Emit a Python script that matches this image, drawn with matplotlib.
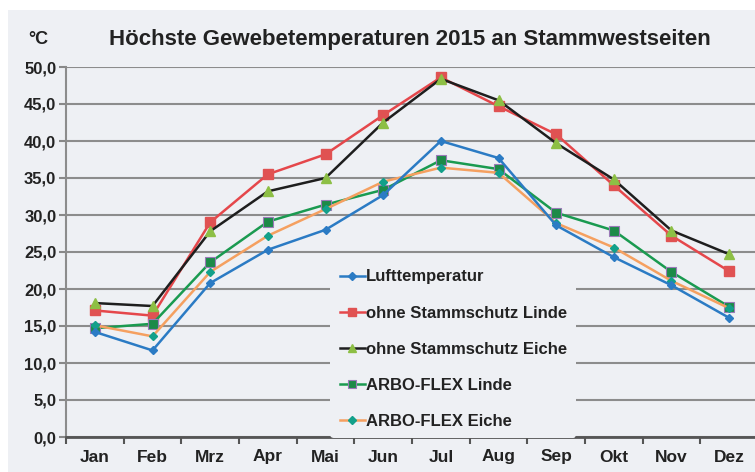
import matplotlib
matplotlib.use("Agg")

import matplotlib.pyplot as plt
from matplotlib.patches import Rectangle
from matplotlib.ticker import FixedLocator, FuncFormatter

months = ["Jan", "Feb", "Mrz", "Apr", "Mai", "Jun",
          "Jul", "Aug", "Sep", "Okt", "Nov", "Dez"]

luft = [14.2, 11.7, 20.8, 25.3, 28.0, 32.7, 40.0, 37.7, 28.6, 24.3, 20.5, 16.1]
ohne_linde = [17.1, 16.4, 29.0, 35.5, 38.2, 43.5, 48.6, 44.7, 40.9, 34.0, 27.2, 22.4]
ohne_eiche = [18.1, 17.7, 27.8, 33.2, 35.0, 42.5, 48.4, 45.5, 39.7, 34.8, 27.9, 24.7]
arbo_linde = [14.7, 15.3, 23.6, 29.1, 31.4, 33.4, 37.4, 36.2, 30.3, 27.9, 22.3, 17.6]
arbo_eiche = [15.1, 13.6, 22.3, 27.2, 30.8, 34.5, 36.4, 35.7, 28.9, 25.6, 21.1, 17.4]

BG = "#eef0f4"

plt.rcParams["font.family"] = ["Liberation Sans", "DejaVu Sans"]
plt.rcParams["font.weight"] = "bold"

fig = plt.figure(figsize=(7.55, 4.72), dpi=100, facecolor="white")
fig.patches.append(Rectangle((8 / 755, 0), 1, 462 / 472, transform=fig.transFigure,
                             facecolor=BG, edgecolor="none", zorder=-10))

ax = fig.add_axes([66 / 755, 35 / 472, 692 / 755, 370 / 472])
ax.set_facecolor(BG)

x = list(range(1, 13))
ax.plot(x, luft, color="#2b7bc4", lw=1.8, marker="D", ms=4.5,
        mfc="#2b7bc4", mec="#2b7bc4", label="Lufttemperatur", zorder=5)
ax.plot(x, ohne_linde, color="#e5474b", lw=1.8, marker="s", ms=6.5,
        mfc="#e05252", mec="#e05252", label="ohne Stammschutz Linde", zorder=4)
ax.plot(x, ohne_eiche, color="#1e1e1e", lw=1.8, marker="^", ms=7,
        mfc="#8dbf45", mec="#8dbf45", label="ohne Stammschutz Eiche", zorder=4)
ax.plot(x, arbo_linde, color="#1a9a50", lw=1.8, marker="s", ms=6.5,
        mfc="#1d8a48", mec="#9a7ab8", mew=0.8, label="ARBO-FLEX Linde", zorder=4)
ax.plot(x, arbo_eiche, color="#f5a060", lw=1.8, marker="D", ms=4.5,
        mfc="#12a08a", mec="#12a08a", label="ARBO-FLEX Eiche", zorder=4)

ax.set_xlim(0.5, 12.5)
ax.set_ylim(0, 50)
ax.yaxis.set_major_locator(FixedLocator([i * 5 for i in range(11)]))
ax.yaxis.set_major_formatter(FuncFormatter(lambda v, p: f"{v:.1f}".replace(".", ",")))
ax.set_xticks(x)
ax.set_xticklabels(months)
ax.xaxis.set_minor_locator(FixedLocator([i + 0.5 for i in range(13)]))
ax.tick_params(axis="x", which="major", length=0, pad=9, labelsize=12.5)
ax.tick_params(axis="x", which="minor", length=5, width=1.5, color="#555555")
ax.tick_params(axis="y", length=5, width=1.5, color="#888888", labelsize=12, pad=2)
for lab in ax.get_xticklabels() + ax.get_yticklabels():
    lab.set_fontweight("bold")
    lab.set_color("#222222")

ax.grid(axis="y", color="#8c8c8c", lw=1.5)
ax.set_axisbelow(True)
for side in ("top", "right"):
    ax.spines[side].set_visible(False)
ax.spines["left"].set_color("#8c8c8c")
ax.spines["left"].set_linewidth(1.5)
ax.spines["bottom"].set_color("#555555")
ax.spines["bottom"].set_linewidth(2)

leg = ax.legend(loc="upper left", bbox_to_anchor=(256 / 692, 185 / 370),
                frameon=True, facecolor=BG, edgecolor="none", framealpha=1,
                fontsize=12, handlelength=1.5, handletextpad=0.1,
                labelspacing=1.26, borderpad=0.55, markerscale=0.85)
for t in leg.get_texts():
    t.set_fontweight("bold")
    t.set_color("#222222")

fig.text(28 / 755, 1 - 40 / 472, "°C", fontsize=13, fontweight="bold",
         color="#222222", va="center")
fig.text(410 / 755, 1 - 40 / 472, "Höchste Gewebetemperaturen 2015 an Stammwestseiten",
         fontsize=16, fontweight="bold", color="#222222", ha="center", va="center")

fig.savefig("out.png", dpi=100, facecolor=fig.get_facecolor())
